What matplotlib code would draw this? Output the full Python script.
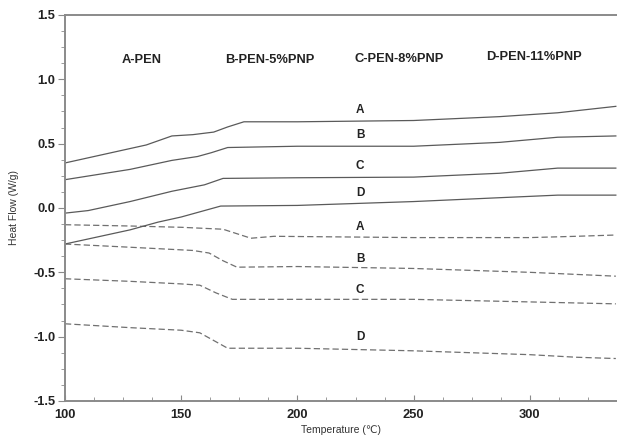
import matplotlib
matplotlib.use("Agg")
import matplotlib.pyplot as plt
from matplotlib.ticker import MultipleLocator, FormatStrFormatter

plt.rcParams['font.family'] = ['Liberation Sans', 'DejaVu Sans']

# heating scans (solid)
heat_t = {
    'A': [100, 120, 135, 146, 155, 164, 170, 177, 200, 250, 287, 312, 337],
    'B': [100, 128, 146, 157, 163, 170, 200, 250, 287, 312, 337],
    'C': [100, 110, 128, 146, 160, 168, 200, 250, 287, 312, 337],
    'D': [100, 128, 140, 150, 158, 167, 200, 250, 287, 312, 337],
}
heat_y = {
    'A': [0.35, 0.43, 0.49, 0.56, 0.57, 0.59, 0.63, 0.67, 0.67, 0.68, 0.71, 0.74, 0.79],
    'B': [0.22, 0.30, 0.37, 0.40, 0.43, 0.47, 0.48, 0.48, 0.51, 0.55, 0.56],
    'C': [-0.04, -0.02, 0.05, 0.13, 0.18, 0.23, 0.235, 0.24, 0.27, 0.31, 0.31],
    'D': [-0.28, -0.17, -0.11, -0.07, -0.03, 0.015, 0.02, 0.05, 0.08, 0.10, 0.10],
}

# cooling scans (dashed)
cool_t = {
    'A': [100, 128, 150, 168, 174, 180, 190, 250, 300, 320, 337],
    'B': [100, 128, 155, 162, 168, 174, 200, 250, 300, 337],
    'C': [100, 128, 150, 158, 165, 172, 200, 250, 300, 337],
    'D': [100, 128, 150, 158, 164, 170, 200, 250, 300, 320, 337],
}
cool_y = {
    'A': [-0.13, -0.14, -0.15, -0.165, -0.20, -0.235, -0.22, -0.23, -0.23, -0.22, -0.21],
    'B': [-0.28, -0.305, -0.33, -0.35, -0.41, -0.46, -0.455, -0.47, -0.50, -0.53],
    'C': [-0.55, -0.57, -0.59, -0.60, -0.66, -0.71, -0.71, -0.71, -0.73, -0.745],
    'D': [-0.90, -0.93, -0.95, -0.97, -1.03, -1.09, -1.09, -1.11, -1.14, -1.16, -1.17],
}

heat_label_y = {'A': 0.76, 'B': 0.57, 'C': 0.33, 'D': 0.12}
cool_label_y = {'A': -0.15, 'B': -0.40, 'C': -0.64, 'D': -1.00}
label_t = 227

samples = ['A-PEN', 'B-PEN-5%PNP', 'C-PEN-8%PNP', 'D-PEN-11%PNP']
sample_t = [133, 188, 244, 302]
sample_y = [1.15, 1.15, 1.16, 1.17]

fig = plt.figure(figsize=(6.17, 4.36), dpi=100)
ax = fig.add_axes([0.1053, 0.0803, 0.8947, 0.8853])

for k in heat_t:
    ax.plot(heat_t[k], heat_y[k], color='#5a5a5a', lw=0.9)
    ax.plot(cool_t[k], cool_y[k], color='#707070', lw=0.9, dashes=(5, 2.5))
    ax.text(label_t, heat_label_y[k], k, ha='center', va='center',
            fontsize=8.5, fontweight='bold', color='#222222')
    ax.text(label_t, cool_label_y[k], k, ha='center', va='center',
            fontsize=8.5, fontweight='bold', color='#222222')

for name, t, y in zip(samples, sample_t, sample_y):
    ax.text(t, y, name, ha='center', va='center', fontsize=9.3,
            fontweight='bold', color='#222222')

ax.set_xlim(100, 337.5)
ax.set_ylim(-1.5, 1.5)
ax.xaxis.set_major_locator(MultipleLocator(50))
ax.xaxis.set_minor_locator(MultipleLocator(12.5))
ax.yaxis.set_major_locator(MultipleLocator(0.5))
ax.yaxis.set_minor_locator(MultipleLocator(0.125))

for side in ['left', 'bottom', 'top']:
    ax.spines[side].set_color('#8a8a8a')
    ax.spines[side].set_linewidth(1.4)
ax.spines['right'].set_visible(False)

ax.tick_params(axis='x', which='both', direction='in', color='#8a8a8a')
ax.tick_params(axis='x', which='major', length=4, pad=6)
ax.tick_params(axis='x', which='minor', length=3)
ax.tick_params(axis='y', which='both', direction='out', color='#8a8a8a')
ax.tick_params(axis='y', which='major', length=5, pad=2)
ax.tick_params(axis='y', which='minor', length=3)
ax.tick_params(labelsize=9.3, labelcolor='#222222')
for lab in ax.get_xticklabels() + ax.get_yticklabels():
    lab.set_fontweight('bold')
ax.yaxis.set_major_formatter(FormatStrFormatter('%.1f'))

ax.set_xlabel('Temperature (\u2103)', fontsize=7.5, color='#333333', labelpad=3)
ax.set_ylabel('Heat Flow (W/g)', fontsize=7.5, color='#333333', labelpad=10)

fig.savefig('out.png', dpi=100)
